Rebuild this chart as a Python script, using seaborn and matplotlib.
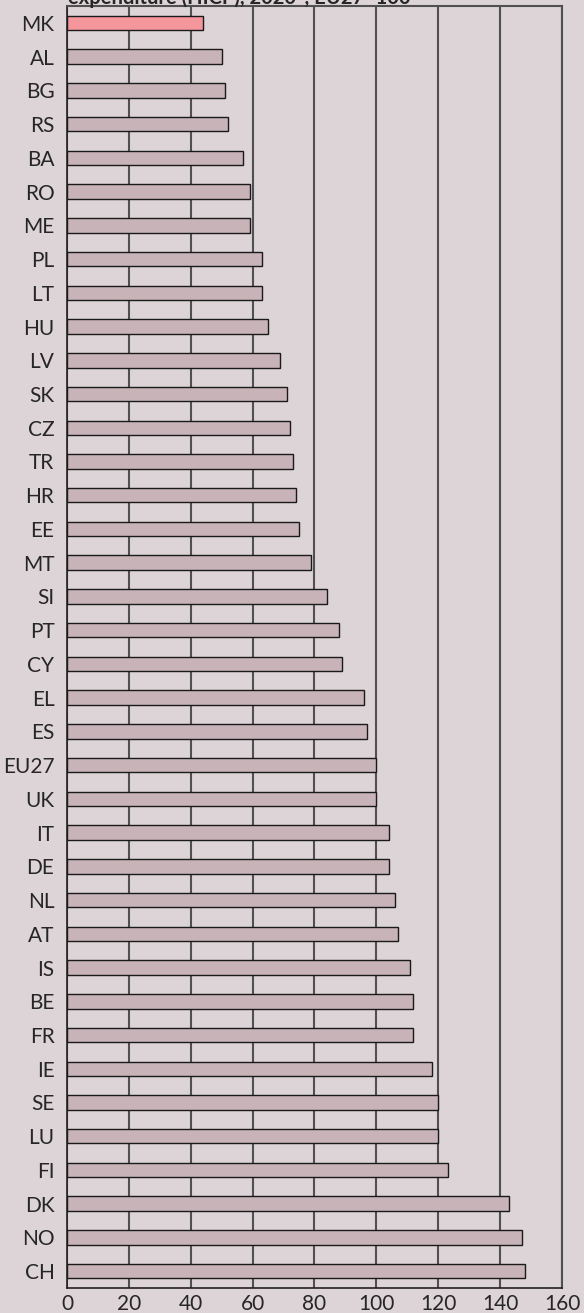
import numpy as np
import pandas as pd
import matplotlib
matplotlib.use('Agg')
import matplotlib.pyplot as plt
import seaborn as sns

# data, EU27 = 100
countries = ['MK', 'AL', 'BG', 'RS', 'BA', 'RO', 'ME', 'PL', 'LT', 'HU',
             'LV', 'SK', 'CZ', 'TR', 'HR', 'EE', 'MT', 'SI', 'PT', 'CY',
             'EL', 'ES', 'EU27', 'UK', 'IT', 'DE', 'NL', 'AT', 'IS', 'BE',
             'FR', 'IE', 'SE', 'LU', 'FI', 'DK', 'NO', 'CH']
values = [44, 50, 51, 52, 57, 59, 59, 63, 63, 65,
          69, 71, 72, 73, 74, 75, 79, 84, 88, 89,
          96, 97, 100, 100, 104, 104, 106, 107, 111, 112,
          112, 118, 120, 120, 123, 143, 147, 148]
highlight = 'MK'
xticks = [0, 20, 40, 60, 80, 100, 120, 140, 160]
title_line = 'expenditure (HICP), 2020*, EU27=100'

bg = '#ddd4d8'
bar_col = '#c8b3b9'
hi_col = '#f4969c'

df = pd.DataFrame({'country': countries, 'value': values})
pal = {c: (hi_col if c == highlight else bar_col) for c in countries}

sns.set_style('white')
plt.rcParams['font.family'] = ['Lato', 'DejaVu Sans']

fig = plt.figure(figsize=(5.84, 13.13), dpi=100, facecolor=bg)
ax = fig.add_axes([0.1147, 0.0190, 0.9623 - 0.1147, 0.9954 - 0.0190])
ax.set_facecolor(bg)

sns.barplot(data=df, x='value', y='country', hue='country', palette=pal,
            order=countries, legend=False, width=0.43, orient='h',
            edgecolor='#1a1a1a', linewidth=1.0, saturation=1, ax=ax, zorder=3)

ax.set_xlim(0, 160)
ax.set_ylim(len(countries) - 0.5, -0.5)
ax.set_xticks(xticks)
ax.set_xticklabels([str(t) for t in xticks], fontsize=15)
ax.xaxis.grid(True, color='#505050', linewidth=1.5, zorder=0)
ax.set_axisbelow(True)

# labels on categories, tick marks between them
ax.set_yticks(np.arange(len(countries)))
ax.set_yticklabels(countries, fontsize=15)
ax.tick_params(axis='y', length=0, pad=9)
ax.set_yticks(np.arange(len(countries) + 1) - 0.5, minor=True)
ax.tick_params(axis='y', which='minor', length=4, width=1, color='#333333')
ax.tick_params(axis='x', length=3, width=1, color='#333333', pad=1)
ax.set_xlabel('')
ax.set_ylabel('')

for side in ['left', 'bottom']:
    ax.spines[side].set_color('#222222')
    ax.spines[side].set_linewidth(1.2)
for side in ['top', 'right']:
    ax.spines[side].set_color('#505050')
    ax.spines[side].set_linewidth(1.5)

# title is cut off at the top in the original
fig.text(0.1147 + 0.002, 1 - 3.5 / 1313, title_line, fontsize=14.5,
         fontweight='bold', va='baseline', ha='left')

plt.savefig('out.png', dpi=100, facecolor=bg)
